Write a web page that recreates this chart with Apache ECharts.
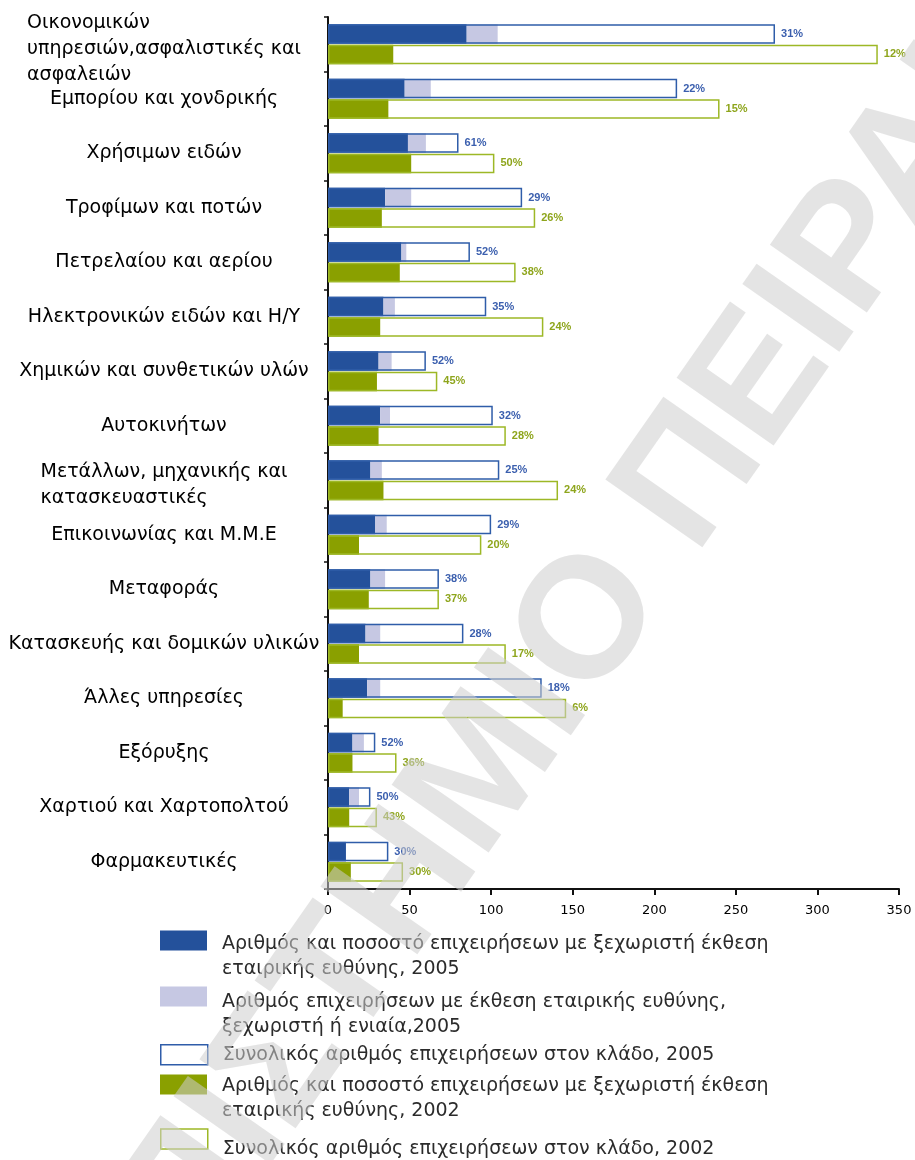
<!DOCTYPE html>
<html>
<head>
<meta charset="utf-8">
<script src="https://cdn.jsdelivr.net/npm/echarts@6/dist/echarts.min.js"></script>
<style>
  html, body { margin: 0; padding: 0; background: #fff; }
  #chart { width: 915px; height: 1160px; }
</style>
</head>
<body>
<div id="chart"></div>
<script>
// Sectors (multi-line names keep their line breaks)
const categories = [
  'Οικονομικών\nυπηρεσιών,ασφαλιστικές και\nασφαλειών',
  'Εμπορίου και χονδρικής',
  'Χρήσιμων ειδών',
  'Τροφίμων και ποτών',
  'Πετρελαίου και αερίου',
  'Ηλεκτρονικών ειδών και Η/Υ',
  'Χημικών και συνθετικών υλών',
  'Αυτοκινήτων',
  'Μετάλλων, μηχανικής και\nκατασκευαστικές',
  'Επικοινωνίας και Μ.Μ.Ε',
  'Μεταφοράς',
  'Κατασκευής και δομικών υλικών',
  'Άλλες υπηρεσίες',
  'Εξόρυξης',
  'Χαρτιού και Χαρτοπολτού',
  'Φαρμακευτικές'
];

// 2005: firms with a separate CSR report, with any CSR report, and all firms in the sector
const separate2005 = [85, 47, 49, 35, 45, 34, 31, 32, 26, 29, 26, 23, 24, 15, 13, 11];
const anyReport2005 = [104, 63, 60, 51, 48, 41, 39, 38, 33, 36, 35, 32, 32, 22, 19, 11];
const total2005 = [274, 214, 80, 119, 87, 97, 60, 101, 105, 100, 68, 83, 131, 29, 26, 37];

// 2002: firms with a separate CSR report and all firms in the sector
const separate2002 = [40, 37, 51, 33, 44, 32, 30, 31, 34, 19, 25, 19, 9, 15, 13, 14];
const total2002 = [337, 240, 102, 127, 115, 132, 67, 109, 141, 94, 68, 109, 146, 42, 30, 46];

// Value axis ticks
const xTickValues = [0, 50, 100, 150, 200, 250, 300, 350];

// Legend entries
const legendNames = [
  'Αριθμός και ποσοστό επιχειρήσεων με ξεχωριστή έκθεση εταιρικής ευθύνης, 2005',
  'Αριθμός επιχειρήσεων με έκθεση εταιρικής ευθύνης, ξεχωριστή ή ενιαία,2005',
  'Συνολικός αριθμός επιχειρήσεων στον κλάδο, 2005',
  'Αριθμός και ποσοστό επιχειρήσεων με ξεχωριστή έκθεση εταιρικής ευθύνης, 2002',
  'Συνολικός αριθμός επιχειρήσεων στον κλάδο, 2002'
];
const legendWrapped = [
  'Αριθμός και ποσοστό επιχειρήσεων με ξεχωριστή έκθεση\nεταιρικής ευθύνης, 2005',
  'Αριθμός επιχειρήσεων με έκθεση εταιρικής ευθύνης,\nξεχωριστή ή ενιαία,2005',
  'Συνολικός αριθμός επιχειρήσεων στον κλάδο, 2005',
  'Αριθμός και ποσοστό επιχειρήσεων με ξεχωριστή έκθεση\nεταιρικής ευθύνης, 2002',
  'Συνολικός αριθμός επιχειρήσεων στον κλάδο, 2002'
];

const C = {
  navy: '#24519b',
  lavender: '#c6c8e3',
  blueLine: '#2f5da9',
  blueText: '#3b5fae',
  olive: '#8aa000',
  greenLine: '#9db826',
  greenText: '#8ea51c',
  wm: 'rgba(205,205,205,0.55)'
};

const FONT = '"DejaVu Sans", "Liberation Sans", sans-serif';
const BAR_W = 19.5;
const BAR_GAP = '4%';

const pct = (part, whole) => Math.round(part / whole * 100) + '%';

const chart = echarts.init(document.getElementById('chart'), null, { renderer: 'canvas' });

// One legend block per entry; a spacer line nudges the text below the swatch
function legendBlock(i, top, spacer, icon) {
  return {
    data: [{ name: legendNames[i], icon: 'rect', itemStyle: icon }],
    left: 160,
    top: top,
    orient: 'vertical',
    padding: 0,
    itemWidth: 47,
    itemHeight: 20,
    selectedMode: false,
    formatter: (name) => {
      const lines = legendWrapped[legendNames.indexOf(name)].split('\n').map((s) => '{t|' + s + '}');
      if (spacer) lines.unshift('{s| }');
      return lines.join('\n');
    },
    textStyle: {
      padding: [0, 0, 0, 10],
      rich: {
        t: { fontFamily: FONT, fontSize: 19, lineHeight: 25, color: '#2b2b2b' },
        s: { fontSize: 1, lineHeight: spacer || 1 }
      }
    }
  };
}

const option = {
  backgroundColor: '#fff',
  animation: false,
  grid: {
    left: 328,
    right: 16,
    top: 17,
    bottom: 271,
    containLabel: false,
    outerBoundsMode: 'none'
  },
  xAxis: {
    type: 'value',
    min: xTickValues[0],
    max: xTickValues[xTickValues.length - 1],
    interval: xTickValues[1] - xTickValues[0],
    splitLine: { show: false },
    axisLine: { show: true, lineStyle: { color: '#111', width: 2 } },
    axisTick: { show: true, length: 6, lineStyle: { color: '#111', width: 2 } },
    axisLabel: { color: '#000', fontFamily: FONT, fontSize: 13, margin: 15 }
  },
  yAxis: [
    {
      type: 'category',
      data: categories,
      inverse: true,
      axisLine: { show: true, lineStyle: { color: '#111', width: 2 } },
      axisTick: { show: true, length: 4, lineStyle: { color: '#111', width: 1.5 } },
      axisLabel: {
        interval: 0,
        margin: 164,
        align: 'center',
        formatter: (v) => {
          const lines = v.split('\n').map((s) => '{l|' + s + '}');
          // wrapped names sit a little lower in their band
          if (lines.length > 1) lines.unshift('{s| }');
          return lines.join('\n');
        },
        rich: {
          l: { align: 'left', fontFamily: FONT, fontSize: 19, lineHeight: 26, color: '#000' },
          s: { fontSize: 1, lineHeight: 9 }
        }
      }
    },
    {
      type: 'category',
      data: categories,
      inverse: true,
      show: false
    }
  ],
  legend: [
    legendBlock(0, 915, 32, { color: C.navy }),
    legendBlock(1, 971, 37, { color: C.lavender }),
    legendBlock(2, 1044, 0, { color: '#fff', borderColor: C.blueLine, borderWidth: 1.5 }),
    legendBlock(3, 1059, 28, { color: C.olive }),
    legendBlock(4, 1126, 20, { color: '#fff', borderColor: C.greenLine, borderWidth: 1.5 })
  ],
  series: [
    {
      name: legendNames[0],
      type: 'bar',
      yAxisIndex: 0,
      stack: 'fill2005',
      barWidth: BAR_W,
      barGap: BAR_GAP,
      itemStyle: { color: C.navy },
      data: separate2005
    },
    {
      name: legendNames[1],
      type: 'bar',
      yAxisIndex: 0,
      stack: 'fill2005',
      barWidth: BAR_W,
      barGap: BAR_GAP,
      itemStyle: { color: C.lavender },
      data: anyReport2005.map((v, i) => v - separate2005[i])
    },
    {
      name: legendNames[3],
      type: 'bar',
      yAxisIndex: 0,
      stack: 'fill2002',
      barWidth: BAR_W,
      barGap: BAR_GAP,
      itemStyle: { color: C.olive },
      data: separate2002
    },
    {
      name: legendNames[2],
      type: 'bar',
      yAxisIndex: 1,
      barWidth: BAR_W,
      barGap: BAR_GAP,
      z: 5,
      itemStyle: { color: 'rgba(255,255,255,0)', borderColor: C.blueLine, borderWidth: 1.5 },
      label: {
        show: true,
        position: 'right',
        distance: 6,
        color: C.blueText,
        fontFamily: '"Liberation Sans", Arial, sans-serif',
        fontWeight: 'bold',
        fontSize: 11,
        formatter: (p) => pct(separate2005[p.dataIndex], total2005[p.dataIndex])
      },
      data: total2005
    },
    {
      name: legendNames[4],
      type: 'bar',
      yAxisIndex: 1,
      barWidth: BAR_W,
      barGap: BAR_GAP,
      z: 5,
      itemStyle: { color: 'rgba(255,255,255,0)', borderColor: C.greenLine, borderWidth: 1.5 },
      label: {
        show: true,
        position: 'right',
        distance: 6,
        color: C.greenText,
        fontFamily: '"Liberation Sans", Arial, sans-serif',
        fontWeight: 'bold',
        fontSize: 11,
        formatter: (p) => pct(separate2002[p.dataIndex], total2002[p.dataIndex])
      },
      data: total2002
    }
  ],
  graphic: [
    {
      type: 'text',
      x: 462,
      y: 808,
      rotation: 55 * Math.PI / 180,
      z: 100,
      silent: true,
      style: {
        text: 'ΠΑΝΕΠΙΣΤΗΜΙΟ ΠΕΙΡΑΙΑ',
        font: 'bold 172px "Liberation Sans", Arial, sans-serif',
        fill: C.wm,
        align: 'center',
        verticalAlign: 'middle',
        textAlign: 'center',
        textVerticalAlign: 'middle'
      }
    }
  ]
};

chart.setOption(option);
</script>
</body>
</html>
